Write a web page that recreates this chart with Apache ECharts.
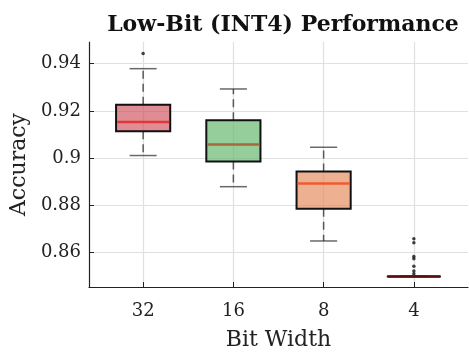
<!DOCTYPE html>
<html>
<head>
<meta charset="utf-8">
<script src="https://cdn.jsdelivr.net/npm/echarts@6/dist/echarts.min.js"></script>
<style>
  html, body { margin: 0; padding: 0; background: #fff; }
  #chart { width: 469px; height: 356px; }
</style>
</head>
<body>
<div id="chart"></div>
<script>
// bit widths on the x axis
const categories = ['32', '16', '8', '4'];
// box statistics, one entry per category
const whiskerLow  = [0.9011, 0.8879, 0.8649, 0.8499];
const q1          = [0.9114, 0.8986, 0.8786, 0.8499];
const median      = [0.9153, 0.9058, 0.8892, 0.8499];
const q3          = [0.9226, 0.9161, 0.8943, 0.8499];
const whiskerHigh = [0.9379, 0.9293, 0.9046, 0.8499];
// fliers: [category index, value]
const outliers = [
  [0, 0.9443],
  [3, 0.8658], [3, 0.8642], [3, 0.8583], [3, 0.8574],
  [3, 0.8542], [3, 0.8522], [3, 0.8510]
];
const yTicks = [0.86, 0.88, 0.9, 0.92, 0.94];

const fillColors = ['rgba(205,75,88,0.64)', 'rgba(105,185,112,0.7)', 'rgba(228,140,95,0.68)', 'rgba(120,120,120,0.5)'];
const medianColors = ['#e0383a', '#a8683a', '#f05a32', '#5a1010'];

const serif = '"DejaVu Serif", serif';

const boxData = categories.map((c, i) => [i + 1, whiskerLow[i], q1[i], median[i], q3[i], whiskerHigh[i]]);
const outlierData = outliers.map(o => [o[0] + 1, o[1]]);

function renderBox(params, api) {
  const x = api.value(0);
  const i = params.dataIndex;
  const halfBox = 0.3, halfCap = 0.15;
  const pLow = api.coord([x, api.value(1)]);
  const pQ1 = api.coord([x, api.value(2)]);
  const pMed = api.coord([x, api.value(3)]);
  const pQ3 = api.coord([x, api.value(4)]);
  const pHigh = api.coord([x, api.value(5)]);
  const left = api.coord([x - halfBox, api.value(3)])[0];
  const right = api.coord([x + halfBox, api.value(3)])[0];
  const capL = api.coord([x - halfCap, api.value(3)])[0];
  const capR = api.coord([x + halfCap, api.value(3)])[0];
  const whisker = { stroke: 'rgba(40,40,40,0.75)', lineWidth: 1.5, lineDash: [8, 5] };
  const cap = { stroke: 'rgba(40,40,40,0.7)', lineWidth: 1.5 };
  return {
    type: 'group',
    children: [
      { type: 'line', shape: { x1: pQ3[0], y1: pQ3[1], x2: pHigh[0], y2: pHigh[1] }, style: whisker },
      { type: 'line', shape: { x1: pQ1[0], y1: pQ1[1], x2: pLow[0], y2: pLow[1] }, style: whisker },
      { type: 'line', shape: { x1: capL, y1: pHigh[1], x2: capR, y2: pHigh[1] }, style: cap },
      { type: 'line', shape: { x1: capL, y1: pLow[1], x2: capR, y2: pLow[1] }, style: cap },
      {
        type: 'rect',
        shape: { x: left, y: pQ3[1], width: right - left, height: pQ1[1] - pQ3[1] },
        style: { fill: fillColors[i], stroke: '#111', lineWidth: 2 }
      },
      { type: 'line', shape: { x1: left + 1, y1: pMed[1], x2: right - 1, y2: pMed[1] },
        style: { stroke: medianColors[i], lineWidth: 2.5 } }
    ]
  };
}

const chart = echarts.init(document.getElementById('chart'), null, { renderer: 'canvas' });

const option = {
  animation: false,
  title: {
    text: 'Low-Bit (INT4) Performance',
    left: 278,
    top: 9,
    textAlign: 'center',
    textStyle: { fontFamily: serif, fontWeight: 'bold', fontSize: 22, color: '#111' }
  },
  grid: { left: 89, width: 379, top: 42, height: 249 },
  xAxis: {
    type: 'value',
    min: 0.4,
    max: 4.6,
    name: 'Bit Width',
    nameLocation: 'middle',
    nameGap: 42,
    nameTextStyle: { fontFamily: serif, fontSize: 22, color: '#222' },
    axisLine: { show: true, lineStyle: { color: '#222', width: 1.2 } },
    axisTick: { show: true, inside: true, length: 5, customValues: [1, 2, 3, 4], lineStyle: { color: '#222' } },
    axisLabel: {
      customValues: [1, 2, 3, 4],
      margin: 15,
      fontFamily: serif,
      fontSize: 18,
      color: '#222',
      formatter: v => categories[Math.round(v) - 1]
    },
    splitLine: { show: true, lineStyle: { color: '#e0e0e0', width: 1.2 } }
  },
  yAxis: {
    type: 'value',
    min: 0.8454,
    max: 0.9492,
    name: 'Accuracy',
    nameLocation: 'middle',
    nameGap: 57,
    nameTextStyle: { fontFamily: serif, fontSize: 22, color: '#222' },
    axisLine: { show: true, lineStyle: { color: '#222', width: 1.2 } },
    axisTick: { show: true, inside: true, length: 5, customValues: yTicks, lineStyle: { color: '#222' } },
    axisLabel: {
      customValues: yTicks,
      margin: 8,
      fontFamily: serif,
      fontSize: 18,
      color: '#222',
      formatter: v => String(Math.round(v * 100) / 100)
    },
    splitLine: { show: true, lineStyle: { color: '#e0e0e0', width: 1.2 } }
  },
  series: [
    {
      type: 'custom',
      renderItem: renderBox,
      encode: { x: 0, y: [1, 2, 3, 4, 5] },
      data: boxData,
      z: 3
    },
    {
      type: 'scatter',
      data: outlierData,
      symbol: 'circle',
      symbolSize: 3.5,
      itemStyle: { color: '#111' },
      z: 4
    }
  ]
};

chart.setOption(option);
</script>
</body>
</html>
